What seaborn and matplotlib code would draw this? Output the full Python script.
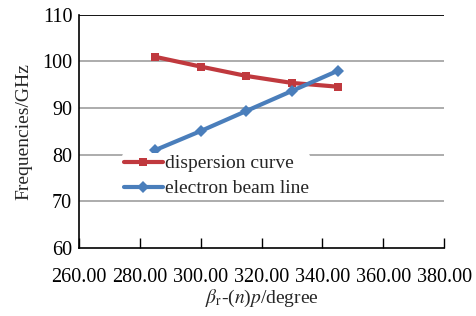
import numpy as np
import pandas as pd
import matplotlib
matplotlib.use("Agg")
import matplotlib.pyplot as plt
import seaborn as sns

# values
phase = [285, 300, 315, 330, 345]
dispersion = [101.0, 98.9, 96.9, 95.4, 94.6]
beam_line = [81.0, 85.1, 89.4, 93.7, 98.0]
x_ticks = [260, 280, 300, 320, 340, 360, 380]
y_ticks = [60, 70, 80, 90, 100, 110]

df = pd.DataFrame({
    "phase": phase * 2,
    "freq": dispersion + beam_line,
    "series": ["dispersion curve"] * 5 + ["electron beam line"] * 5,
})

sns.set_theme(style="white")
plt.rcParams["font.family"] = ["Liberation Serif", "DejaVu Serif"]
plt.rcParams["mathtext.fontset"] = "stix"

fig, ax = plt.subplots(figsize=(4.77, 3.16), dpi=100)
fig.subplots_adjust(left=0.166, right=0.931, top=0.953, bottom=0.215)

# grid lines (top one darker)
for v in y_ticks[1:]:
    ax.axhline(v, color="black" if v == 110 else "#a6a6a6", lw=1.3, zorder=0)

sns.lineplot(data=df, x="phase", y="freq", hue="series", style="series",
             palette={"dispersion curve": "#c0393e", "electron beam line": "#4a7ebb"},
             markers={"dispersion curve": "s", "electron beam line": "D"},
             dashes=False, lw=3, markersize=6, markeredgewidth=0, ax=ax)

ax.set_xlim(260, 380)
ax.set_ylim(60, 110)
ax.set_xticks(x_ticks)
ax.set_xticklabels([f"{t:.2f}" for t in x_ticks])
ax.set_yticks(y_ticks)
ax.tick_params(axis="x", direction="in", length=7, width=1, pad=14, labelsize=14.5, bottom=True, colors="black")
ax.tick_params(axis="y", length=0, pad=5, labelsize=14.5, colors="black")

for s in ["top", "right"]:
    ax.spines[s].set_visible(False)
for s in ["left", "bottom"]:
    ax.spines[s].set_color("black")
    ax.spines[s].set_linewidth(1.2)

ax.set_xlabel(r"$\beta_{\rm r}$-($n$)$p$/degree", fontsize=14, labelpad=1)
ax.set_ylabel("Frequencies/GHz", fontsize=14, labelpad=7)

leg = ax.legend(loc="upper left", bbox_to_anchor=(0.09, 0.45), frameon=True,
                facecolor="white", edgecolor="white", framealpha=1, fontsize=14,
                handlelength=2.0, handletextpad=0.1, labelspacing=0.38, borderpad=0.1)
leg.get_frame().set_linewidth(0)

fig.savefig("out.png", dpi=100)
